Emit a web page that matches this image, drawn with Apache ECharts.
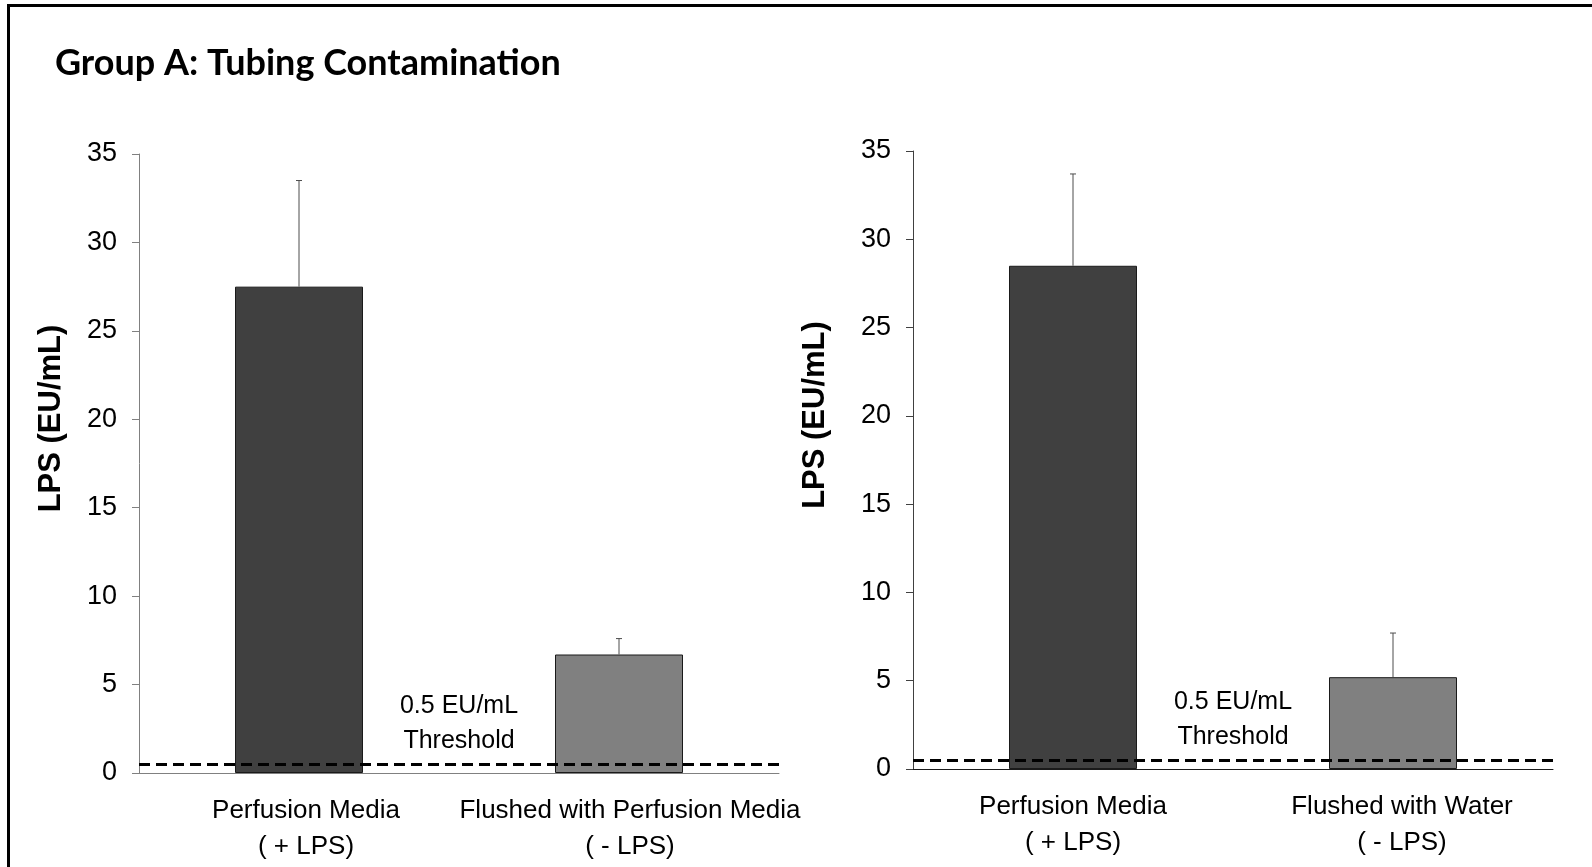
<!DOCTYPE html>
<html>
<head>
<meta charset="utf-8">
<title>Group A: Tubing Contamination</title>
<script src="https://cdn.jsdelivr.net/npm/echarts@6/dist/echarts.min.js"></script>
<style>
  html, body { margin: 0; padding: 0; background: #ffffff; }
  #chart { width: 1592px; height: 867px; }
</style>
</head>
<body>
<div id="chart"></div>
<script>
// Endotoxin (LPS) levels in perfusion tubing, two experiments side by side
const titleText = 'Group A: Tubing Contamination';
const yAxisName = 'LPS (EU/mL)';

const leftCategories = ['Perfusion Media\n( + LPS)', 'Flushed with Perfusion Media\n( - LPS)'];
const leftValues = [27.5, 6.7];
const leftErrors = [6.0, 0.9];

const rightCategories = ['Perfusion Media\n( + LPS)', 'Flushed with Water\n( - LPS)'];
const rightValues = [28.5, 5.2];
const rightErrors = [5.2, 2.5];

const barColors = ['#404040', '#808080'];
const yMin = 0, yMax = 35, yStep = 5;
const threshold = 0.5;
const thresholdText = ['0.5 EU/mL', 'Threshold'];

// horizontal nudge (px) of each category caption, left panel then right panel
const leftLabelShift = [7, 11];
const rightLabelShift = [0, 9];

const NARROW = '"Liberation Sans Narrow", "Arial Narrow", "Liberation Sans", sans-serif';
const SANS = '"Liberation Sans", Arial, sans-serif';

const chart = echarts.init(document.getElementById('chart'), null, { renderer: 'canvas' });

function yAxisFor(gridIndex, axisColor, nameGap) {
  return {
    type: 'value', gridIndex: gridIndex,
    min: yMin, max: yMax, interval: yStep,
    name: yAxisName, nameLocation: 'middle', nameGap: nameGap, nameRotate: 90,
    nameTextStyle: {
      fontFamily: SANS, fontWeight: 'bold', fontSize: 31, color: '#000',
      padding: [0, 0, 0, 90]
    },
    axisLine: { show: true, lineStyle: { color: axisColor, width: 1 } },
    axisTick: { show: true, length: 7, lineStyle: { color: axisColor, width: 1 } },
    axisLabel: { fontFamily: NARROW, fontSize: 27, color: '#000', margin: 22 },
    splitLine: { show: false }
  };
}

function xAxisFor(gridIndex, cats, shifts, axisColor) {
  return {
    type: 'category', gridIndex: gridIndex,
    data: cats.map((c, i) => ({
      value: c,
      textStyle: { padding: [0, 0, 0, 2 * shifts[i]] }
    })),
    axisLine: { show: true, lineStyle: { color: axisColor, width: 1 } },
    axisTick: { show: false },
    axisLabel: { fontFamily: NARROW, fontSize: 26, lineHeight: 36, color: '#000', margin: 20, interval: 0 }
  };
}

function barSeries(axisIndex, values) {
  return {
    type: 'bar', xAxisIndex: axisIndex, yAxisIndex: axisIndex,
    barWidth: '40%', z: 2,
    data: values.map((v, i) => ({
      value: v,
      itemStyle: { color: barColors[i], borderColor: '#1a1a1a', borderWidth: 1 }
    })),
    silent: true
  };
}

// Upper-only error whiskers with a short cap
function errorSeries(axisIndex, values, errors) {
  return {
    type: 'custom', xAxisIndex: axisIndex, yAxisIndex: axisIndex, z: 3,
    data: values.map((v, i) => [i, v, errors[i]]),
    encode: { x: 0, y: 1 },
    renderItem: function (params, api) {
      const x = api.value(0), v = api.value(1), e = api.value(2);
      const base = api.coord([x, v]);
      const top = api.coord([x, v + e]);
      const style = { stroke: '#4d4d4d', lineWidth: 1 };
      return {
        type: 'group',
        children: [
          { type: 'line', shape: { x1: base[0], y1: base[1], x2: top[0], y2: top[1] }, style: style },
          { type: 'line', shape: { x1: top[0] - 3, y1: top[1], x2: top[0] + 3, y2: top[1] }, style: style }
        ]
      };
    },
    silent: true
  };
}

// Dashed detection-threshold line with its caption
function thresholdSeries(axisIndex) {
  return {
    type: 'line', xAxisIndex: axisIndex, yAxisIndex: axisIndex, z: 5,
    data: [], silent: true,
    markLine: {
      silent: true, symbol: 'none', animation: false,
      lineStyle: { type: [11, 6], width: 3, color: '#000' },
      label: {
        show: true, position: 'middle', distance: 6,
        formatter: thresholdText.join('\n'),
        fontFamily: NARROW, fontSize: 25, lineHeight: 35, color: '#000', align: 'center'
      },
      data: [{ yAxis: threshold }]
    }
  };
}

const option = {
  backgroundColor: '#ffffff',
  animation: false,
  title: {
    text: titleText, left: 50, top: 40,
    textStyle: { fontFamily: 'Lato, "Open Sans", sans-serif', fontWeight: 'bold', fontSize: 36, color: '#000' }
  },
  grid: [
    { left: 139, top: 154, width: 640, height: 619 },
    { left: 913, top: 151, width: 640, height: 618 }
  ],
  xAxis: [
    xAxisFor(0, leftCategories, leftLabelShift, '#808080'),
    xAxisFor(1, rightCategories, rightLabelShift, '#1a1a1a')
  ],
  yAxis: [
    yAxisFor(0, '#808080', 72),
    yAxisFor(1, '#404040', 82)
  ],
  series: [
    barSeries(0, leftValues),
    errorSeries(0, leftValues, leftErrors),
    thresholdSeries(0),
    barSeries(1, rightValues),
    errorSeries(1, rightValues, rightErrors),
    thresholdSeries(1)
  ],
  graphic: [
    // frame along the top and left edges
    { type: 'rect', shape: { x: 7, y: 4, width: 1592, height: 3 }, style: { fill: '#000' }, silent: true },
    { type: 'rect', shape: { x: 7, y: 4, width: 3, height: 900 }, style: { fill: '#000' }, silent: true }
  ]
};

chart.setOption(option);
</script>
</body>
</html>
